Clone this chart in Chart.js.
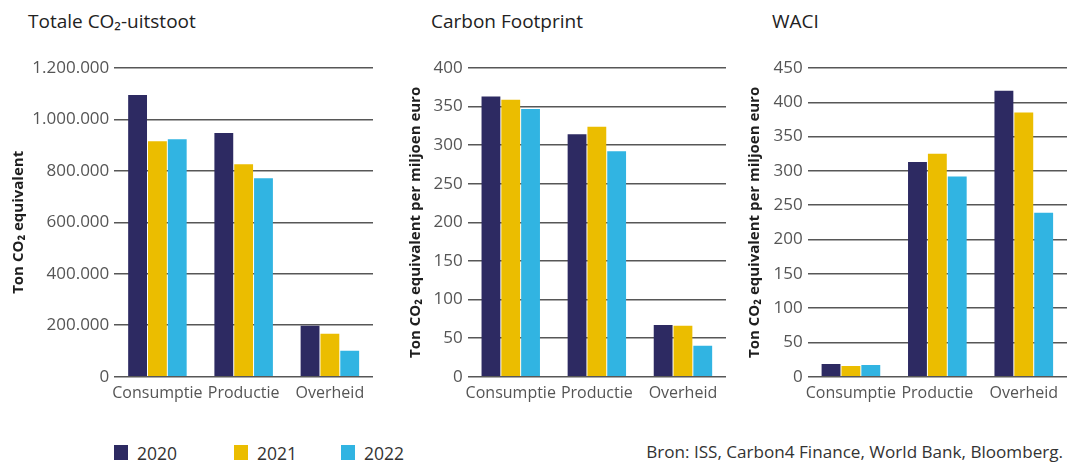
<!DOCTYPE html>
<html lang="nl">
<head>
<meta charset="utf-8">
<title>CO₂-uitstoot</title>
<script src="https://cdn.jsdelivr.net/npm/chart.js@4/dist/chart.umd.min.js"></script>
<style>
  html, body { margin: 0; padding: 0; background: #fff; }
  body { width: 1067px; height: 462px; position: relative; overflow: hidden;
         font-family: "Open Sans", "Noto Sans", sans-serif; }
  .panel { position: absolute; top: 0; height: 420px; }
  .title { position: absolute; top: 8px; font-size: 19px; color: #222; white-space: nowrap; }
  .legend { position: absolute; top: 442px; left: 114px; height: 20px; }
  .legend span.item { position: absolute; top: 0; white-space: nowrap; font-size: 17.5px; color: #333; line-height: 22px; }
  .legend i { position: absolute; top: 3px; left: 0; width: 14px; height: 15px; }
  .legend b { font-weight: normal; position: absolute; left: 23px; top: 0; }
  .source { position: absolute; top: 440px; right: 4px; font-size: 17.1px; color: #333; white-space: nowrap; }
</style>
</head>
<body>

<div class="title" style="left:28px">Totale CO₂-uitstoot</div>
<div class="title" style="left:431px">Carbon Footprint</div>
<div class="title" style="left:772px">WACI</div>

<div class="panel" style="left:0px;width:373px"><canvas id="c1"></canvas></div>
<div class="panel" style="left:397px;width:329px"><canvas id="c2"></canvas></div>
<div class="panel" style="left:736px;width:331px"><canvas id="c3"></canvas></div>

<div class="legend" id="legend"></div>
<div class="source">Bron: ISS, Carbon4 Finance, World Bank, Bloomberg.</div>

<script>
// Categories and years
const categories = ['Consumptie', 'Productie', 'Overheid'];
const years = ['2020', '2021', '2022'];
const yearColors = ['#2d2a62', '#ebbd00', '#31b4e2'];

// Totale CO2-uitstoot (ton CO2 equivalent)
const totaal2020 = [1095000, 947000, 198000];
const totaal2021 = [915000, 826000, 167000];
const totaal2022 = [923000, 771000, 101000];

// Carbon Footprint (ton CO2 equivalent per miljoen euro)
const footprint2020 = [363, 314, 67];
const footprint2021 = [359, 324, 66];
const footprint2022 = [347, 292, 40];

// WACI (ton CO2 equivalent per miljoen euro)
const waci2020 = [18.5, 313, 417];
const waci2021 = [15.5, 325, 385];
const waci2022 = [17, 292, 239];

// Y-axis scales
const totaalMax = 1200000, totaalStep = 200000;
const footprintMax = 400, footprintStep = 50;
const waciMax = 450, waciStep = 50;

const fontFamily = '"Open Sans", "Noto Sans", sans-serif';
const nlFormat = new Intl.NumberFormat('nl-NL', { maximumFractionDigits: 0 });

function makeChart(id, series, yMax, yStep, yTitle, yAxisWidth) {
  const datasets = series.map((values, i) => ({
    label: years[i],
    data: values,
    backgroundColor: yearColors[i],
    borderWidth: 0,
    barPercentage: 0.95,
    categoryPercentage: 0.69
  }));
  return new Chart(document.getElementById(id), {
    type: 'bar',
    data: { labels: categories, datasets },
    options: {
      responsive: true,
      maintainAspectRatio: false,
      animation: false,
      layout: { padding: { top: 68, right: 0, bottom: 0, left: 0 } },
      plugins: { legend: { display: false }, tooltip: { enabled: false }, title: { display: false } },
      scales: {
        x: {
          grid: { display: false, drawTicks: false },
          border: { display: false },
          ticks: { color: '#555', font: { family: fontFamily, size: 16 }, padding: 7, maxRotation: 0, autoSkip: false },
          afterFit: s => { s.height = 43.3; }
        },
        y: {
          min: 0,
          max: yMax,
          grid: { color: '#575757', lineWidth: 1.6, drawTicks: false },
          border: { display: false },
          ticks: {
            stepSize: yStep,
            color: '#555',
            padding: 5,
            font: { family: fontFamily, size: 17 },
            callback: v => nlFormat.format(v)
          },
          title: {
            display: true,
            text: yTitle,
            color: '#1e1e1e',
            font: { family: fontFamily, size: 15, weight: 'bold' },
            padding: { top: 10, bottom: 0 }
          },
          afterFit: s => { s.width = yAxisWidth; }
        }
      }
    }
  });
}

makeChart('c1', [totaal2020, totaal2021, totaal2022], totaalMax, totaalStep,
  'Ton CO₂ equivalent', 114.3);
makeChart('c2', [footprint2020, footprint2021, footprint2022], footprintMax, footprintStep,
  'Ton CO₂ equivalent per miljoen euro', 70.7);
makeChart('c3', [waci2020, waci2021, waci2022], waciMax, waciStep,
  'Ton CO₂ equivalent per miljoen euro', 71.7);

// Shared legend for the three panels
const legendOffsets = [0, 120, 227];
const legend = document.getElementById('legend');
years.forEach((y, i) => {
  const item = document.createElement('span');
  item.className = 'item';
  item.style.left = legendOffsets[i] + 'px';
  const sw = document.createElement('i');
  sw.style.background = yearColors[i];
  const txt = document.createElement('b');
  txt.textContent = y;
  item.appendChild(sw);
  item.appendChild(txt);
  legend.appendChild(item);
});
</script>
</body>
</html>
